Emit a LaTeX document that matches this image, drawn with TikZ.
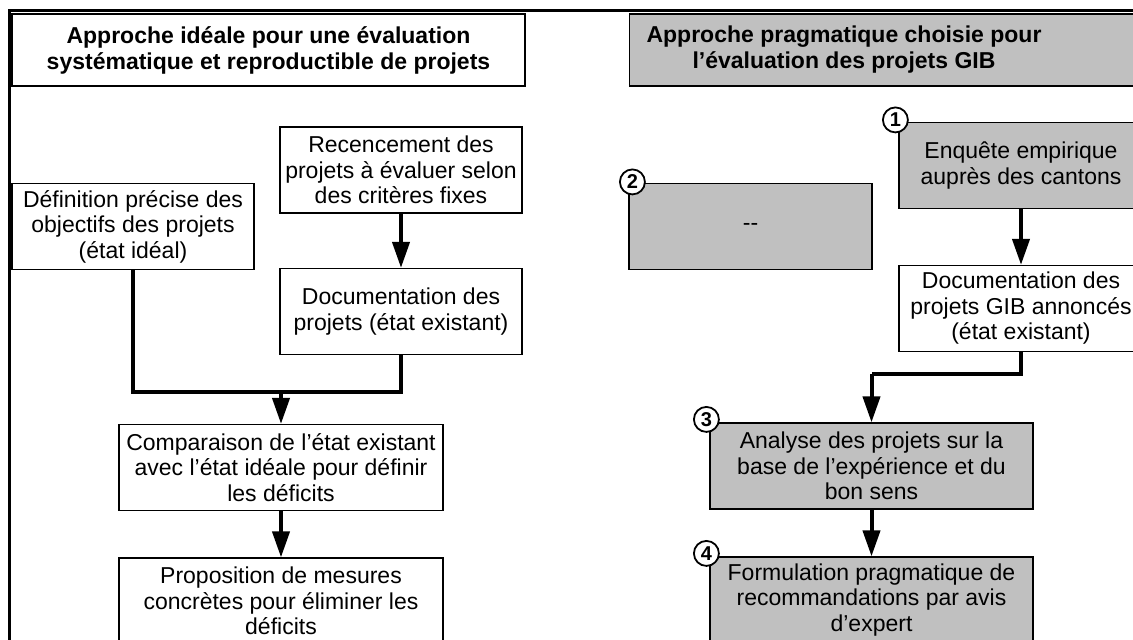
\documentclass[tikz,border=0pt]{standalone}
\usepackage{fontspec}
\setmainfont{Liberation Sans}
\usetikzlibrary{arrows.meta}
\definecolor{boxgray}{RGB}{192,192,192}
\begin{document}
\begin{tikzpicture}[x=1pt,y=-1pt,
  box/.style={draw=black, line width=1.2pt, fill=white, align=center, inner sep=0pt,
    font=\fontsize{23}{25.5}\selectfont, minimum height=86pt},
  gbox/.style={box, fill=boxgray},
  tbox/.style={draw=black, line width=1.2pt, inner sep=0pt},
  ttext/.style={align=center, font=\bfseries\fontsize{23}{26}\selectfont},
  num/.style={circle, draw=black, line width=1.8pt, fill=white, minimum size=25pt, inner sep=0pt,
    font=\bfseries\fontsize{20}{20}\selectfont},
  conn/.style={line width=4pt, line join=miter, draw=black},
  arr/.style={conn, -{Triangle[length=26pt,width=17pt]}}
]
\useasboundingbox (0,0) rectangle (1133,640);
\clip (0,0) rectangle (1133,640);
\fill[white] (0,0) rectangle (1133,640);
% outer frame
\draw[line width=2.6pt] (9.5,700) -- (9.5,10.5) -- (1200,10.5);

% titles
\node[tbox, fill=white, minimum width=513pt, minimum height=72pt] (titleL) at (268.5,50) {};
\node[ttext] (titleLtxt) at (titleL.center) {Approche idéale pour une évaluation\\systématique et reproductible de projets};
\node[tbox, fill=boxgray, minimum width=560pt, minimum height=72pt, anchor=west] (titleR) at (629,50) {};
\node[ttext] (titleRtxt) at (844,50) {Approche pragmatique choisie pour\\l’évaluation des projets GIB};

% left column
\node[box, minimum width=242pt] (rec) at (401,170) {Recencement des\\projets à évaluer selon\\des critères fixes};
\node[box, minimum width=242pt] (def) at (133,226.5) {Définition précise des\\objectifs des projets\\(état idéal)};
\node[box, minimum width=242pt] (docL) at (401,311.5) {Documentation des\\projets (état existant)};
\node[box, minimum width=324pt] (comp) at (281,467.5) {Comparaison de l’état existant\\avec l’état idéale pour définir\\les déficits};
\node[box, minimum width=324pt] (prop) at (281,601) {Proposition de mesures\\concrètes pour éliminer les\\déficits};

% right column
\node[gbox, minimum width=244pt] (enq) at (1021,165.5) {Enquête empirique\\auprès des cantons};
\node[gbox, minimum width=243pt] (box2) at (750.5,226.5) {{-}{-}};
\node[box, minimum width=244pt] (docR) at (1021,308.5) {Documentation des\\projets GIB annoncés\\(état existant)};
\node[gbox, minimum width=323pt] (ana) at (871.5,466) {Analyse des projets sur la\\base de l’expérience et du\\bon sens};
\node[gbox, minimum width=323pt] (form) at (871.5,600) {Formulation pragmatique de\\recommandations par avis\\d’expert};

% number circles
\node[num] (n1) at ([shift={(-3,-2)}]enq.north west) {1};
\node[num] (n2) at ([shift={(4,-1)}]box2.north west) {2};
\node[num] (n3) at ([shift={(-3,-3)}]ana.north west) {3};
\node[num] (n4) at ([shift={(-3,-3)}]form.north west) {4};

% connectors left
\coordinate (jL) at (281,392);
\draw[arr] (rec.south) -- (docL.north);
\draw[conn] (def.south) |- (jL) -| (docL.south);
\draw[arr] (jL) -- (comp.north);
\draw[arr] (comp.south) -- (prop.north);

% connectors right
\coordinate (jR) at (871.5,374);
\draw[arr] (enq.south) -- (docR.north);
\draw[conn] (docR.south) |- (jR);
\draw[arr] (jR) -- (ana.north);
\draw[arr] (ana.south) -- (form.north);
\end{tikzpicture}
\end{document}
